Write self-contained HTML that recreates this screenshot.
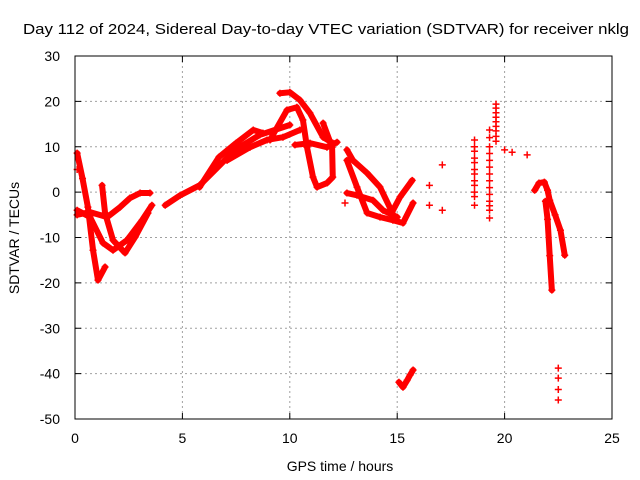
<!DOCTYPE html>
<html><head><meta charset="utf-8"><style>
body{margin:0;background:#fff}
svg{display:block;font-family:"Liberation Sans",sans-serif}
</style></head><body>
<svg width="640" height="480" xmlns="http://www.w3.org/2000/svg">
<rect width="640" height="480" fill="#fff"/>
<text x="326" y="34" font-size="15" text-anchor="middle" textLength="606" lengthAdjust="spacingAndGlyphs">Day 112 of 2024, Sidereal Day-to-day VTEC variation (SDTVAR) for receiver nklg</text>
<g id="grid"></g>
<g id="marks"></g>
<rect x="75" y="56" width="537" height="363" fill="none" stroke="#000" stroke-width="1"/>
<g id="axes" font-size="14"></g>
<text x="340" y="471" font-size="14" text-anchor="middle">GPS time / hours</text>
<text transform="translate(19,238) rotate(-90)" font-size="14" text-anchor="middle">SDTVAR / TECUs</text>
</svg>
<script>
const xTicks=[0,5,10,15,20,25];
const yTicks=[30,20,10,0,-10,-20,-30,-40,-50];
const trackA=[[0.1,8.6],[0.35,3],[0.6,-3.3],[0.84,-12.8],[1.07,-19.4],[1.4,-16.5]];
const trackB=[[0.1,-4],[0.7,-5.5],[1.3,-11.2],[1.77,-12.8],[2.42,-10.6],[3.12,-6.2],[3.58,-2.9]];
const trackC=[[1.26,1.5],[1.4,-4.6],[1.77,-10.6],[2.33,-13.4],[2.8,-9.9],[3.4,-4.6]];
const trackD=[[0.1,-5],[0.7,-4.4],[1.5,-5.5],[2.1,-3.3],[2.56,-1.3],[3.03,-0.2],[3.49,-0.2]];
const trackE=[[4.2,-2.9],[4.9,-0.7],[5.8,1.5],[6.5,4.8],[7.45,9.3],[8.6,12.6],[10,14.8]];
const trackE2=[[5.8,1.1],[6.7,7.7],[7.5,10.8],[8.3,13.7],[8.75,13]];
const trackE3=[[7.08,7],[8.15,9.9],[8.94,11.5],[9.68,12.1],[10.47,13.7]];
const trackF=[[9.54,21.8],[10,22],[10.47,20.3],[10.94,17.4],[11.55,12.1],[12,10.8]];
const trackG=[[9.08,11.5],[9.87,18.1],[10.33,18.7],[10.61,15.9],[10.8,9.9],[11.08,3.3],[11.27,1.1],[11.73,2],[12,3.3],[11.97,9.9],[11.55,15.2]];
const trackH=[[10.24,10.4],[10.94,10.8],[11.73,9.9],[12.2,11]];
const trackI=[[12.66,9.3],[12.94,7],[13.6,4.2],[14.2,1.1],[14.76,-4.4],[15.13,-1.1],[15.7,2.6]];
const trackJ=[[12.66,7],[13.13,1.1],[13.6,-4.6],[14.2,-5.5],[14.8,-6.2],[15.27,-6.8],[15.74,-2.4]];
const trackK=[[12.66,-0.2],[13.13,-0.7],[13.87,-1.8],[14.34,-4],[15,-5.5]];
const trackL=[[15.08,-41.9],[15.27,-43],[15.46,-41.5],[15.6,-40.3],[15.74,-39.2]];
const trackM=[[21.4,0.4],[21.6,2],[21.85,2.2],[22,0.4],[22.1,-1.8],[22.35,-5],[22.6,-8.4],[22.8,-13.9]];
const trackN=[[21.9,-2],[22.0,-6],[22.1,-14],[22.2,-21.6]];
const scatter=[[0.1,5],[12.57,-2.4],[16.5,1.5],[16.5,-2.9],[17.1,6],[17.1,-4],
[18.6,11.5],[18.6,10],[18.6,9],[18.6,7.5],[18.6,6.5],[18.6,5],[18.6,4],[18.6,2.5],[18.6,1.5],[18.6,0],[18.6,-1],[18.6,-2.9],
[19.3,13.7],[19.3,12],[19.3,10],[19.3,8.5],[19.3,7],[19.3,5.5],[19.3,4],[19.3,2.5],[19.3,1],[19.3,-0.5],[19.3,-2],[19.3,-3],[19.3,-4],[19.3,-5.7],
[19.6,19.4],[19.6,18.5],[19.6,17.5],[19.6,16.5],[19.6,15.5],[19.6,14.5],[19.6,13.5],[19.6,12.3],[19.6,11.2],[20,9.3],[20.35,8.8],[21.05,8.2],
[22.5,-38.8],[22.5,-41],[22.5,-43.5],[22.5,-45.8]];
const tracks=[trackA,trackB,trackC,trackD,trackE,trackE2,trackE3,trackF,trackG,trackH,trackI,trackJ,trackK,trackL,trackM,trackN];
const X=h=>75+h*537/25, Y=v=>56+(30-v)*363/80;
const NS='http://www.w3.org/2000/svg';
const g=document.getElementById('grid'),m=document.getElementById('marks'),ax=document.getElementById('axes');
function mk(t,a,p){const e=document.createElementNS(NS,t);for(const k in a)e.setAttribute(k,a[k]);p.appendChild(e);return e;}
xTicks.forEach(t=>{
 if(t>0&&t<25){const l=mk('line',{x1:X(t),x2:X(t),y1:56,y2:419,stroke:'#a0a0a0','stroke-dasharray':'2,3'},g);
 
 }
 mk('line',{x1:X(t),x2:X(t),y1:419,y2:413,stroke:'#000'},ax);
 mk('line',{x1:X(t),x2:X(t),y1:56,y2:62,stroke:'#000'},ax);
 const tx=mk('text',{x:X(t),y:443,'text-anchor':'middle'},ax);tx.textContent=t;
 
 
});
yTicks.forEach(t=>{
 if(t<30&&t>-50){const l=mk('line',{x1:75,x2:612,y1:Y(t),y2:Y(t),stroke:'#a0a0a0','stroke-dasharray':'2,3'},g);
 
 }
 mk('line',{x1:75,x2:81,y1:Y(t),y2:Y(t),stroke:'#000'},ax);
 mk('line',{x1:606,x2:612,y1:Y(t),y2:Y(t),stroke:'#000'},ax);
 const tx=mk('text',{x:60,y:Y(t)+5,'text-anchor':'end'},ax);tx.textContent=t;
 
 
});
function plus(h,v){const x=X(h),y=Y(v);
 const p=mk('path',{d:`M${x-3.5},${y}H${x+3.5}M${x},${y-3.5}V${y+3.5}`,stroke:'#f00','stroke-width':1.5},m);
 
 }
tracks.forEach(tr=>{
 const pl=mk('polyline',{points:tr.map(p=>X(p[0])+','+Y(p[1])).join(' '),fill:'none',stroke:'#f00','stroke-width':6,'stroke-linejoin':'round','stroke-linecap':'round'},m);
 
 
 tr.forEach(p=>plus(p[0],p[1]));
});
scatter.forEach(p=>plus(p[0],p[1]));
</script>
</body></html>
